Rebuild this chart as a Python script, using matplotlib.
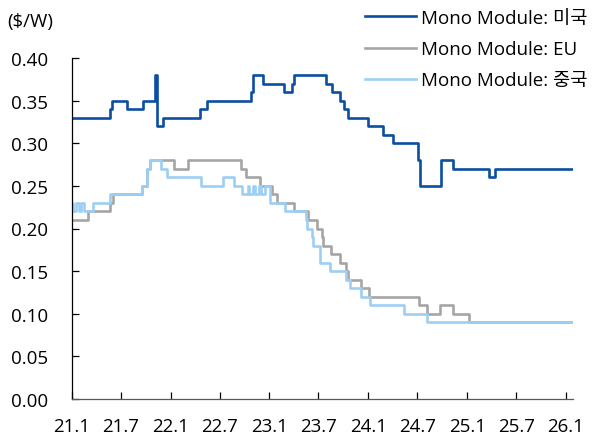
import pandas as pd
import matplotlib
matplotlib.use('Agg')
import matplotlib.pyplot as plt

plt.rcParams['font.family'] = ['Open Sans', 'Noto Sans CJK KR', 'DejaVu Sans']

# === Data: step change points (date, $/W) ===
us_dates = ['2021-01-01', '2021-05-21', '2021-05-28', '2021-07-24', '2021-09-21',
            '2021-11-03', '2021-11-10', '2021-12-04', '2022-04-19', '2022-05-14',
            '2022-10-23', '2022-10-31', '2022-12-07', '2023-02-23', '2023-03-25',
            '2023-04-01', '2023-07-28', '2023-08-19', '2023-09-18', '2023-10-04',
            '2023-10-19', '2024-01-01', '2024-02-26', '2024-03-31', '2024-07-02',
            '2024-07-09', '2024-09-25', '2024-11-10', '2025-03-23', '2025-04-13']
us_vals = [0.33, 0.34, 0.35, 0.34, 0.35,
           0.38, 0.32, 0.33, 0.34, 0.35,
           0.36, 0.38, 0.37, 0.36, 0.37,
           0.38, 0.37, 0.36, 0.35, 0.34,
           0.33, 0.32, 0.31, 0.30, 0.28,
           0.25, 0.28, 0.27, 0.26, 0.27]

eu_dates = ['2021-01-01', '2021-03-01', '2021-05-21', '2021-06-01', '2021-09-15',
            '2021-10-06', '2021-10-16', '2022-01-14', '2022-03-07', '2022-09-17',
            '2022-10-07', '2022-11-27', '2023-01-09', '2023-01-30', '2023-04-01',
            '2023-05-24', '2023-06-24', '2023-07-13', '2023-07-19', '2023-08-15',
            '2023-09-18', '2023-10-11', '2023-10-17', '2023-12-05', '2024-01-04',
            '2024-07-08', '2024-08-06', '2024-09-22', '2024-11-10', '2025-01-07']
eu_vals = [0.21, 0.22, 0.23, 0.24, 0.25,
           0.27, 0.28, 0.27, 0.28, 0.27,
           0.26, 0.25, 0.24, 0.23, 0.22,
           0.21, 0.20, 0.19, 0.18, 0.17,
           0.16, 0.15, 0.14, 0.13, 0.12,
           0.11, 0.10, 0.11, 0.10, 0.09]

cn_dates = ['2021-01-01', '2021-01-06', '2021-01-15', '2021-01-28', '2021-02-05',
            '2021-02-14', '2021-03-20', '2021-05-22', '2021-09-15', '2021-10-06',
            '2021-10-16', '2021-11-26', '2021-12-17', '2022-04-22', '2022-07-14',
            '2022-08-24', '2022-09-20', '2022-10-12', '2022-10-19', '2022-11-02',
            '2022-11-08', '2022-11-23', '2022-11-30', '2022-12-15', '2023-01-03',
            '2023-02-27', '2023-05-16', '2023-05-21', '2023-06-06', '2023-06-12',
            '2023-07-06', '2023-08-12', '2023-10-10', '2023-10-26', '2023-12-05',
            '2024-01-07', '2024-05-12', '2024-08-04']
cn_vals = [0.23, 0.22, 0.23, 0.22, 0.23,
           0.22, 0.23, 0.24, 0.25, 0.27,
           0.28, 0.27, 0.26, 0.25, 0.26,
           0.25, 0.24, 0.25, 0.24, 0.25,
           0.24, 0.25, 0.24, 0.25, 0.23,
           0.22, 0.21, 0.20, 0.19, 0.18,
           0.16, 0.15, 0.14, 0.13, 0.12,
           0.11, 0.10, 0.09]

end_date = '2026-01-27'

tick_dates = ['2021-01-01', '2021-07-01', '2022-01-01', '2022-07-01', '2023-01-01',
              '2023-07-01', '2024-01-01', '2024-07-01', '2025-01-01', '2025-07-01',
              '2026-01-01']
tick_labels = ['21.1', '21.7', '22.1', '22.7', '23.1', '23.7', '24.1', '24.7',
               '25.1', '25.7', '26.1']

series = [
    ('Mono Module: 미국', us_dates, us_vals, '#0B4EA2'),
    ('Mono Module: EU', eu_dates, eu_vals, '#A5A5A5'),
    ('Mono Module: 중국', cn_dates, cn_vals, '#9DCFF5'),
]

# === Plot ===
fig = plt.figure(figsize=(6.08, 4.39), dpi=100)
ax = fig.add_axes([72 / 608, 1 - 400 / 439, 501 / 608, 341 / 439])

for label, d, v, color in series:
    x = pd.to_datetime(d + [end_date])
    y = v + [v[-1]]
    ax.plot(x, y, drawstyle='steps-post', color=color, lw=1.9, label=label)

ax.set_xlim(pd.Timestamp('2021-01-01'), pd.Timestamp(end_date))
ax.set_ylim(0, 0.40)
ax.set_yticks([0.0, 0.05, 0.10, 0.15, 0.20, 0.25, 0.30, 0.35, 0.40])
ax.set_yticklabels([f'{t:.2f}' for t in ax.get_yticks()])
ax.set_xticks(pd.to_datetime(tick_dates))
ax.set_xticklabels(tick_labels)

fs = 13.5
ax.tick_params(axis='y', direction='in', length=5, width=0.9, pad=17,
               labelsize=fs, colors='#000000')
ax.tick_params(axis='x', direction='in', length=5, width=0.9, pad=13,
               labelsize=fs, colors='#000000')

for side in ['top', 'right']:
    ax.spines[side].set_visible(False)
ax.spines['left'].set_color('#000000')
ax.spines['left'].set_linewidth(0.9)
ax.spines['bottom'].set_color('#595959')
ax.spines['bottom'].set_linewidth(0.9)

fig.text(7 / 608, 1 - 22 / 439, '($/W)', fontsize=fs, va='center', ha='left')

ax.legend(loc='upper left', bbox_to_anchor=(365 / 608, 1 - 10 / 439),
          bbox_transform=fig.transFigure, frameon=False, fontsize=fs,
          handlelength=2.7, handletextpad=0.3, labelspacing=0.7,
          borderpad=0, borderaxespad=0)

fig.savefig('out.png', dpi=100)
